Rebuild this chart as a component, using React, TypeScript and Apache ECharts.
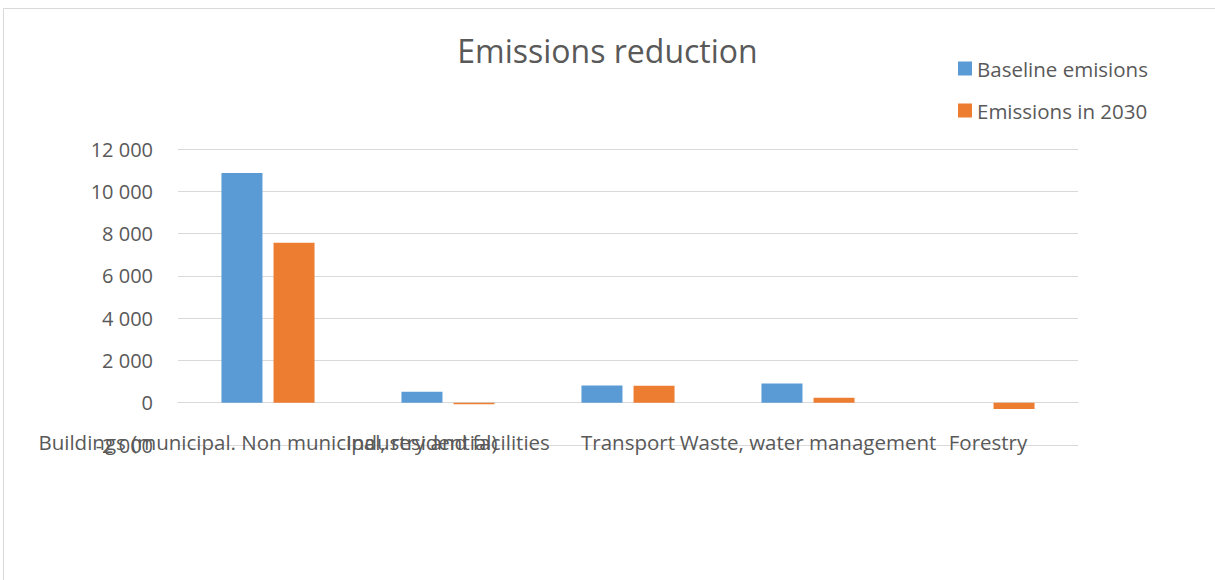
import React, { useEffect, useRef } from "react";
import * as echarts from "echarts";

const categories = [
  "Buildings (municipal. Non municipal, residential)",
  "Industry and facilities",
  "Transport",
  "Waste, water management",
  "Forestry",
];
const baseline = [10870, 520, 820, 910, 0];
const emissions2030 = [7560, -70, 800, 240, -300];
const yTicks = { min: -2000, max: 12000, interval: 2000 };

const FONT = "'Open Sans', Lato, sans-serif";
const GREY = "#595959";

export default function App() {
  const ref = useRef<HTMLDivElement>(null);
  useEffect(() => {
    if (!ref.current) return;
    const chart = echarts.init(ref.current, null, { renderer: "svg" });
    chart.setOption({
      animation: false,
      backgroundColor: "#ffffff",
      textStyle: { fontFamily: FONT },
      title: {
        text: "Emissions reduction",
        left: "center",
        top: 29,
        textStyle: { fontFamily: FONT, fontSize: 32, fontWeight: "normal", color: GREY },
      },
      legend: {
        orient: "vertical",
        left: 953,
        top: 53,
        itemWidth: 14,
        itemHeight: 14,
        itemGap: 21,
        icon: "rect",
        textStyle: { fontFamily: FONT, fontSize: 20.5, color: GREY },
        data: ["Baseline emisions", "Emissions in 2030"],
      },
      graphic: [
        {
          type: "rect",
          shape: { x: 3.5, y: 8.5, width: 1230, height: 600 },
          style: { fill: "none", stroke: "#d9d9d9", lineWidth: 1 },
          silent: true,
        },
      ],
      grid: { left: 178, right: 137, top: 149, bottom: 135, containLabel: false },
      xAxis: {
        type: "category",
        data: categories,
        axisTick: { show: false },
        axisLine: { onZero: true, lineStyle: { color: "#d9d9d9" } },
        axisLabel: {
          interval: 0,
          margin: -14,
          fontFamily: FONT,
          fontSize: 20.5,
          color: GREY,
        },
      },
      yAxis: {
        type: "value",
        min: yTicks.min,
        max: yTicks.max,
        interval: yTicks.interval,
        axisLine: { show: false },
        axisTick: { show: false },
        splitLine: { lineStyle: { color: "#d9d9d9", width: 1 } },
        axisLabel: {
          margin: 25,
          fontFamily: FONT,
          fontSize: 20,
          color: GREY,
          formatter: (v: number) => {
            const s = Math.abs(v).toString().replace(/\B(?=(\d{3})+(?!\d))/g, " ");
            return (v < 0 ? "-" : "") + s;
          },
        },
      },
      series: [
        {
          name: "Baseline emisions",
          type: "bar",
          data: baseline,
          barWidth: 41,
          barGap: "27%",
          itemStyle: { color: "#5B9BD5" },
        },
        {
          name: "Emissions in 2030",
          type: "bar",
          data: emissions2030,
          barWidth: 41,
          barGap: "27%",
          itemStyle: { color: "#ED7D31" },
        },
      ],
    });
    return () => chart.dispose();
  }, []);
  return (
    <div
      ref={ref}
      style={{ position: "absolute", left: 0, top: 0, width: 1215, height: 580 }}
    />
  );
}
